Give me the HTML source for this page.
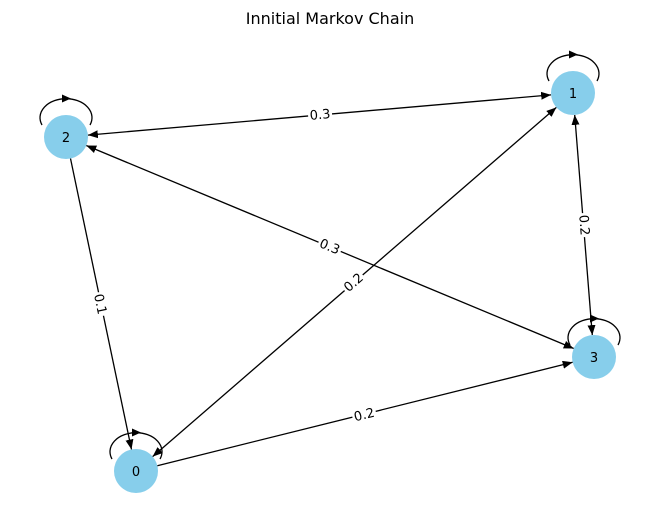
<!DOCTYPE html>
<html><head><meta charset="utf-8"><style>
body{margin:0;background:#fff}
svg{display:block}
text{font-family:"DejaVu Sans","Liberation Sans",sans-serif}
</style></head><body>
<svg width="660" height="522" viewBox="0 0 660 522" xmlns="http://www.w3.org/2000/svg">
<defs>
<marker id="a" markerUnits="userSpaceOnUse" markerWidth="12" markerHeight="10" refX="10" refY="4" orient="auto-start-reverse">
<path d="M0,0 L10,4 L0,8 Z" fill="#000"/>
</marker>
</defs>
<text x="330" y="24" font-size="16" text-anchor="middle">Innitial Markov Chain</text>
<g stroke="#000" stroke-width="1.3" fill="none">
<line x1="87.9" y1="135.1" x2="551.1" y2="94.9" marker-start="url(#a)" marker-end="url(#a)"/>
<line x1="86.3" y1="145.5" x2="573.7" y2="348.5" marker-start="url(#a)" marker-end="url(#a)"/>
<line x1="70.5" y1="158.5" x2="131.5" y2="449.5" marker-end="url(#a)"/>
<line x1="152.6" y1="456.6" x2="556.4" y2="107.4" marker-start="url(#a)" marker-end="url(#a)"/>
<line x1="157.3" y1="465.7" x2="572.7" y2="362.3" marker-end="url(#a)"/>
<line x1="574.7" y1="114.9" x2="592.3" y2="335.1" marker-start="url(#a)" marker-end="url(#a)"/>
<path d="M549,81 A26 19 0 1 1 597,81"/>
<path d="M42,125 A26 19 0 1 1 90,125"/>
<path d="M570,345 A26 19 0 1 1 618,345"/>
<path d="M112,459 A26 19 0 1 1 160,459"/>
</g>
<g fill="#000">
<path d="M569,50.5 L578,54.5 L569,58.5 Z"/>
<path d="M62,94.5 L71,98.5 L62,102.5 Z"/>
<path d="M590,314.5 L599,318.5 L590,322.5 Z"/>
<path d="M132,428.5 L141,432.5 L132,436.5 Z"/>
</g>
<g fill="#87ceeb">
<circle cx="136" cy="471" r="22"/>
<circle cx="573" cy="93" r="22"/>
<circle cx="66" cy="137" r="22"/>
<circle cx="594" cy="357" r="22"/>
</g>
<g font-size="13" text-anchor="middle">
<text x="136" y="476">0</text>
<text x="573" y="98">1</text>
<text x="66" y="142">2</text>
<text x="594" y="362">3</text>
</g>
<g font-size="13" text-anchor="middle">
<g transform="translate(320,114) rotate(-5)"><rect x="-12" y="-8" width="24" height="16" fill="#fff"/><text y="5">0.3</text></g>
<g transform="translate(330,246) rotate(22.6)"><rect x="-12" y="-8" width="24" height="16" fill="#fff"/><text y="5">0.3</text></g>
<g transform="translate(101,304) rotate(78.2)"><rect x="-12" y="-8" width="24" height="16" fill="#fff"/><text y="5">0.1</text></g>
<g transform="translate(353,282) rotate(-40.9)"><rect x="-12" y="-8" width="24" height="16" fill="#fff"/><text y="5">0.2</text></g>
<g transform="translate(364,414) rotate(-14)"><rect x="-12" y="-8" width="24" height="16" fill="#fff"/><text y="5">0.2</text></g>
<g transform="translate(585,225) rotate(85.5)"><rect x="-12" y="-8" width="24" height="16" fill="#fff"/><text y="5">0.2</text></g>
</g>
</svg>
</body></html>
